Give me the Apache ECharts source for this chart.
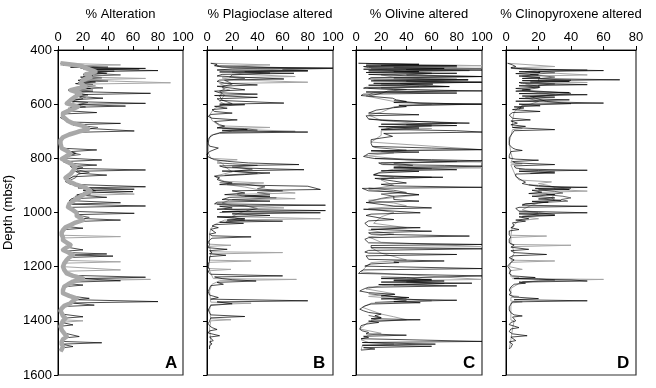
<!DOCTYPE html>
<html><head><meta charset="utf-8">
<script src="https://cdn.jsdelivr.net/npm/echarts@6/dist/echarts.min.js"></script>
<style>html,body{margin:0;padding:0;background:#fff}#c{width:656px;height:388px}</style>
</head><body><div id="c"></div>
<script>
// ---- data: [depth (mbsf), percent]; null = gap ----
const panelTitles = ['% Alteration', '% Plagioclase altered', '% Olivine altered', '% Clinopyroxene altered'];
const panelLetters = ['A', 'B', 'C', 'D'];
const panelMax = [100, 100, 100, 80];
const depthTicks = [400, 600, 800, 1000, 1200, 1400, 1600];

const altTrend = [[449,2],[455,14],[461,20],[470,24],[480,30],[490,22],[500,26],[510,20],[523,18],[535,22],[548,10],[560,18],[572,14],[585,10],[597,7],[609,16],[621,10],[634,4],[646,4],[652,3],[662,8],[671,12],[680,20],[692,24],[702,16],[712,9],[722,4],[733,2],[745,2],[763,3],[775,8],[782,10],[794,6],[802,3],[812,7],[822,11],[832,14],[846,12],[858,10],[872,6],[886,9],[896,14],[908,22],[920,26],[930,22],[946,16],[958,12],[968,9],[980,8],[991,12],[1001,15],[1012,15],[1020,18],[1028,20],[1037,14],[1046,10],[1055,6],[1065,4],[1074,3],[1083,3],[1092,4],[1102,4],[1111,7],[1120,10],[1129,7],[1138,4],[1147,8],[1157,12],[1166,9],[1175,7],[1188,5],[1200,4],[1212,5],[1225,7],[1234,12],[1243,20],[1255,12],[1265,8],[1274,5],[1286,4],[1298,4],[1308,9],[1317,15],[1326,12],[1335,10],[1345,5],[1354,3],[1363,2],[1372,3],[1382,4],[1391,6],[1400,4],[1409,3],[1420,2],[1434,3],[1446,5],[1458,7],[1468,4],[1477,3],[1486,3],[1495,4],[1505,3],[1512,2]];
const altBlack = [[449,2],[452,8],[456,4],[460,16],[464,10],[468,70],[471,22],[476,80],[480,26],[486,39],[490,20],[496,28],[500,18],[506,24],[512,16],[518,30],[524,14],[530,22],[536,16],[542,26],[548,8],[554,18],[560,74],[565,14],[572,18],[578,36],[584,10],[590,8],[597,70],[601,12],[607,54],[612,10],[618,12],[624,6],[631,31],[636,5],[642,4],[650,2],[660,6],[666,10],[671,50],[676,12],[684,22],[690,26],[699,61],[704,14],[712,8],[720,4],[732,2],[745,2],[756,3],[763,5],[769,31],[775,10],[782,14],[790,8],[798,3],[806,35],[812,4],[818,7],[825,31],[830,10],[837,12],[843,70],[848,14],[855,17],[862,39],[868,12],[877,8],[886,6],[896,10],[905,70],[909,16],[914,61],[918,20],[923,60],[928,22],[935,15],[944,39],[949,11],[956,9],[964,50],[969,8],[976,70],[981,9],[988,11],[996,13],[1003,61],[1008,14],[1015,17],[1022,19],[1028,50],[1033,16],[1040,12],[1046,10],[1052,7],[1058,20],[1063,5],[1072,3],[1083,3],[1095,4],[1104,5],[1112,7],[1120,9],[1128,7],[1138,20],[1143,5],[1148,8],[1153,39],[1157,12],[1161,44],[1166,9],[1175,7],[1188,5],[1200,4],[1212,5],[1225,7],[1232,11],[1239,70],[1244,18],[1252,50],[1257,12],[1263,9],[1268,20],[1274,5],[1286,4],[1298,4],[1308,9],[1317,25],[1322,14],[1329,80],[1334,11],[1342,29],[1347,5],[1356,3],[1365,2],[1375,3],[1385,20],[1390,5],[1398,5],[1406,3],[1415,12],[1420,2],[1432,3],[1445,5],[1452,6],[1458,17],[1463,5],[1470,4],[1476,3],[1481,35],[1486,3],[1490,4],[1495,12],[1500,3],[1506,2],[1512,2]];
const altDark = [[450,4],[452,6],[458,12],[463,40],[467,18],[470,65],[474,24],[478,45],[484,22],[492,50],[497,20],[503,35],[509,18],[515,40],[520,16],[527,28],[533,18],[540,36],[545,12],[552,28],[557,14],[566,24],[571,16],[580,20],[589,10],[594,24],[603,14],[610,22],[615,8],null,[676,12],[680,20],[686,32],[694,22],[708,12],null,[776,8],[786,18],[792,8],null,[828,10],[834,20],[840,13],[852,25],[858,16],[872,14],[880,10],null,[900,12],[907,20],[912,26],[920,30],[926,20],[932,26],[940,14],[950,18],[958,9],null,[1000,14],[1010,16],[1018,25],[1025,18],[1036,18],[1044,10]];
const altGray = [[449,2],[455,50],[459,10],[466,30],[472,20],[480,40],[486,24],[494,35],[500,22],[505,70],[510,20],[515,45],[521,90],[526,20],[532,30],[538,18],[546,28],[552,12],[562,20],[570,16],[576,22],[582,12],[590,14],[598,10],[606,18],[614,12],[622,10],[630,6],[646,4],[660,6],[672,14],[682,22],[692,24],[700,18],[710,10],[720,5],[745,2],[760,4],[775,10],[782,15],[800,4],[815,7],[830,12],[846,16],[856,18],[866,12],[880,9],[892,10],[903,15],[915,22],[923,24],[932,61],[937,16],[946,12],[960,9],[975,8],[990,12],[1005,15],[1020,18],[1030,20],[1040,12],[1050,8],[1060,5],[1075,4],[1084,3],[1089,50],[1094,4],[1105,5],[1120,10],[1135,5],[1150,10],[1165,9],[1177,7],[1182,50],[1187,6],[1200,4],[1207,5],[1212,50],[1217,5],[1228,8],[1238,16],[1243,20],[1247,74],[1252,15],[1262,9],[1275,5],[1290,4],[1305,8],[1318,15],[1330,11],[1345,5],[1360,3],[1375,3],[1390,6],[1396,4],[1400,20],[1405,4],[1420,2],[1440,3],[1458,7],[1475,3],[1495,4],[1512,2]];

const plagBlack = [[449,3],[453,8],[458,6],[463,12],[467,100],[470,20],[474,8],[477,80],[481,10],[486,69],[490,12],[496,8],[501,30],[507,61],[511,10],[516,8],[522,14],[529,40],[534,8],[541,20],[547,30],[552,6],[558,10],[563,40],[568,6],[575,40],[580,8],[586,10],[596,61],[600,10],[602,30],[608,6],[615,16],[620,4],[627,6],[633,20],[638,3],[645,1],[652,4],[658,24],[664,6],[670,8],[676,10],[681,14],[688,8],[694,32],[698,12],[703,80],[707,10],[713,5],[722,2],[731,1],[745,1],[755,2],[762,9],[768,8],[775,2],[786,0],[795,1],[800,2],[805,6],[811,16],[817,33],[823,73],[828,10],[834,14],[842,77],[847,12],[854,50],[860,30],[866,6],[872,10],[878,8],[885,12],[891,20],[897,10],[903,80],[909,80],[915,90],[920,20],[928,30],[934,14],[940,50],[944,18],[952,12],[958,50],[962,8],[968,6],[973,94],[977,10],[983,20],[988,8],[993,94],[997,12],[1001,90],[1005,20],[1011,50],[1016,8],[1023,30],[1028,16],[1032,60],[1036,10],[1040,29],[1045,6],[1050,4],[1056,9],[1062,3],[1068,2],[1075,7],[1080,2],[1086,4],[1090,35],[1095,4],[1102,2],[1110,1],[1118,2],[1125,3],[1130,1],[1136,16],[1141,2],[1148,4],[1152,2],[1158,15],[1163,2],[1170,1],[1180,2],[1190,1],[1200,1],[1210,2],[1220,1],[1228,3],[1234,60],[1238,6],[1244,12],[1248,20],[1253,39],[1258,8],[1265,13],[1270,3],[1280,2],[1292,1],[1305,2],[1314,9],[1320,3],[1326,80],[1330,8],[1337,20],[1343,3],[1351,2],[1360,1],[1370,2],[1378,3],[1384,30],[1389,3],[1396,4],[1402,2],[1410,1],[1418,2],[1425,4],[1432,8],[1437,2],[1445,1],[1455,10],[1460,2],[1466,3],[1473,5],[1478,2],[1485,4],[1492,2],[1498,3],[1504,2]];
const plagDark = [[456,6],[458,10],[464,50],[468,100],[472,60],[476,80],[480,30],[485,50],[492,20],[500,18],[505,30],[512,14],[520,18],[526,20],[535,12],[545,14],[552,10],[560,12],[570,10],[585,12],[598,20],[605,10],null,[686,8],[690,30],[696,40],[700,20],[705,10],null,[817,8],[820,20],[826,40],[832,20],[840,36],[848,22],[855,40],[862,14],null,[890,10],[895,30],[905,46],[912,40],[920,60],[926,40],[933,50],[940,30],[946,55],[952,20],null,[970,8],[975,30],[985,40],[995,30],[1000,10],null,[1016,8],[1020,22],[1028,30],[1035,15]];
const plagGray = [[449,3],[455,50],[460,8],[466,20],[470,40],[477,80],[482,20],[490,30],[494,50],[498,70],[503,12],[510,20],[519,80],[524,10],[532,14],[540,12],[548,18],[556,10],[566,14],[578,12],[590,10],[600,14],[610,8],[620,5],[640,2],[660,4],[680,10],[686,50],[691,12],[700,70],[705,10],[715,3],[740,1],[780,1],[800,3],[805,24],[810,8],[818,12],[830,14],[850,20],[866,6],[878,10],[885,14],[891,45],[897,16],[906,30],[915,40],[928,70],[933,24],[940,28],[949,70],[954,18],[965,12],[975,20],[983,61],[988,14],[995,30],[1005,24],[1015,20],[1023,90],[1028,14],[1036,10],[1045,6],[1060,3],[1080,2],[1100,2],[1117,2],[1121,19],[1125,2],[1145,3],[1148,60],[1153,3],[1176,2],[1179,35],[1184,2],[1207,1],[1210,19],[1215,2],[1244,5],[1247,71],[1252,10],[1265,4],[1290,2],[1331,3],[1335,35],[1340,3],[1360,2],[1392,3],[1396,19],[1400,3],[1430,2],[1470,3],[1504,2]];

const olivBlack = [[449,2],[453,50],[456,8],[458,80],[461,6],[465,10],[468,70],[471,6],[474,100],[477,10],[480,50],[483,8],[486,80],[490,10],[495,40],[498,100],[502,12],[507,10],[510,89],[514,12],[519,100],[523,14],[526,61],[530,10],[535,74],[538,8],[541,6],[546,30],[551,100],[555,8],[559,80],[563,6],[568,4],[572,5],[578,29],[584,32],[590,40],[594,30],[600,100],[604,34],[609,40],[613,30],[617,29],[622,16],[627,16],[633,10],[639,50],[643,8],[649,7],[655,10],[660,21],[664,21],[670,90],[674,20],[679,80],[683,18],[688,50],[693,20],[698,80],[703,100],[708,22],[713,21],[719,29],[725,20],[731,12],[737,11],[745,12],[751,12],[756,13],[762,60],[768,100],[772,12],[777,50],[782,10],[788,8],[793,6],[797,10],[801,15],[805,60],[809,100],[813,100],[817,18],[823,21],[826,70],[829,100],[835,30],[842,80],[846,20],[848,50],[854,18],[860,14],[865,20],[870,69],[874,15],[878,21],[884,30],[891,40],[896,20],[902,30],[907,100],[911,5],[915,6],[920,10],[924,29],[929,30],[934,50],[940,30],[946,29],[952,30],[958,50],[963,8],[970,8],[976,30],[983,60],[988,6],[995,6],[1001,51],[1006,12],[1011,8],[1016,7],[1021,20],[1026,30],[1031,10],[1040,7],[1046,8],[1052,10],[1056,51],[1062,12],[1069,60],[1075,10],[1080,12],[1087,90],[1093,10],[1099,7],[1105,8],[1112,10],[1118,100],[1122,12],[1126,13],[1130,12],[1134,100],[1140,10],[1146,7],[1150,10],[1155,80],[1160,8],[1167,7],[1173,10],[1179,70],[1183,30],[1185,34],[1190,12],[1198,7],[1203,8],[1207,100],[1212,6],[1216,4],[1220,3],[1225,2],[1230,2],[1234,100],[1240,100],[1244,20],[1247,60],[1250,30],[1253,70],[1257,20],[1261,92],[1266,18],[1271,80],[1276,10],[1281,7],[1285,5],[1290,3],[1296,10],[1302,31],[1308,20],[1314,42],[1319,20],[1324,80],[1329,30],[1333,51],[1338,12],[1345,7],[1351,5],[1357,3],[1363,6],[1369,10],[1375,20],[1381,15],[1388,20],[1392,12],[1396,51],[1401,10],[1406,18],[1412,8],[1418,4],[1424,3],[1431,3],[1437,5],[1443,10],[1448,8],[1453,40],[1457,6],[1461,10],[1466,4],[1471,4],[1476,100],[1480,5],[1486,63],[1490,5],[1494,60],[1499,6],[1504,15],[1508,4]];
const olivDark = [[450,8],[453,50],[457,20],[460,80],[464,30],[468,100],[472,40],[476,90],[480,30],[486,60],[492,40],[498,100],[503,30],[510,89],[515,40],[519,100],[524,35],[530,50],[535,74],[540,20],[546,40],[552,25],[560,20],[570,10],null,[586,30],[590,30],[596,50],[600,100],[605,40],[612,30],null,[655,10],[660,30],[666,60],[671,80],[676,40],[680,60],[686,30],[695,20],null,[756,13],[760,15],[770,40],[775,20],null,[800,15],[808,50],[812,80],[818,30],[826,45],[832,30],[838,60],[845,25],null,[862,14],[866,30],[870,60],[875,20],null,[910,10],[918,30],[926,40],[932,20],[940,30],[948,20],[960,10],null,[1238,20],[1240,40],[1246,50],[1251,60],[1256,40],[1262,70],[1268,30],null,[1300,10],[1310,30],[1316,40],[1320,30],[1326,40],[1332,15],null,[1380,10],[1390,20],[1398,12]];
const olivGray = [[449,2],[458,100],[462,10],[465,80],[469,12],[480,40],[486,60],[492,20],[500,30],[507,80],[512,14],[519,70],[526,20],[535,50],[541,10],[551,80],[557,14],[570,8],[590,30],[600,60],[610,30],[630,20],[640,10],[660,20],[675,60],[684,24],[690,60],[698,20],[715,20],[740,12],[768,100],[772,12],[780,30],[790,8],[805,40],[813,100],[817,20],[830,40],[835,100],[840,30],[850,20],[862,14],[870,30],[880,20],[900,30],[915,10],[925,30],[935,50],[945,30],[955,10],[965,30],[975,40],[985,10],[1000,30],[1016,20],[1040,14],[1056,40],[1065,10],[1080,30],[1090,10],[1110,20],[1126,100],[1130,12],[1150,20],[1175,40],[1185,12],[1200,8],[1220,4],[1247,100],[1252,30],[1262,60],[1270,20],[1282,8],[1300,30],[1310,10],[1326,60],[1335,12],[1350,5],[1375,20],[1385,30],[1396,40],[1405,10],[1430,3],[1446,20],[1453,10],[1470,4],[1480,10],[1486,30],[1492,5],[1508,4]];

const cpxBlack = [[449,1],[455,4],[461,6],[465,3],[470,10],[474,40],[476,60],[480,8],[483,21],[487,6],[492,20],[496,8],[501,21],[505,10],[510,70],[513,10],[516,39],[520,8],[524,10],[528,50],[532,8],[537,21],[542,6],[547,15],[552,6],[557,39],[561,8],[565,50],[570,10],[574,30],[579,8],[584,39],[589,6],[596,60],[600,8],[606,21],[610,5],[614,11],[620,4],[627,21],[631,4],[635,5],[640,2],[645,2],[652,4],[658,15],[662,3],[670,7],[676,3],[682,12],[686,4],[694,30],[698,5],[707,4],[715,3],[724,2],[731,2],[740,2],[750,2],[762,4],[767,6],[771,10],[775,3],[780,4],[790,2],[799,2],[803,6],[807,20],[812,4],[817,6],[823,30],[828,5],[836,6],[840,12],[844,50],[848,8],[854,30],[858,6],[866,6],[875,8],[882,10],[888,12],[893,10],[898,14],[903,20],[907,50],[911,18],[915,39],[918,16],[925,22],[930,14],[934,30],[940,16],[946,30],[950,20],[955,34],[959,16],[962,26],[968,12],[973,10],[977,50],[981,8],[985,6],[989,5],[995,8],[1001,50],[1005,8],[1011,30],[1016,8],[1023,14],[1028,6],[1032,12],[1038,4],[1044,3],[1050,5],[1056,3],[1063,8],[1068,2],[1075,3],[1082,2],[1090,3],[1099,2],[1106,3],[1112,2],[1120,5],[1128,3],[1136,14],[1141,3],[1148,5],[1155,25],[1160,4],[1167,2],[1175,5],[1184,3],[1190,2],[1198,1],[1205,2],[1215,3],[1225,2],[1234,4],[1240,18],[1244,5],[1249,40],[1253,50],[1257,8],[1261,12],[1265,5],[1275,3],[1286,2],[1296,3],[1304,2],[1312,5],[1318,20],[1322,5],[1326,50],[1330,4],[1339,3],[1348,2],[1360,2],[1370,3],[1378,5],[1382,10],[1386,4],[1393,3],[1400,6],[1406,3],[1414,2],[1420,3],[1425,8],[1430,3],[1440,2],[1448,4],[1455,13],[1460,3],[1466,4],[1473,6],[1478,2],[1486,4],[1492,5],[1498,3],[1504,2]];
const cpxDark = [[468,3],[470,10],[474,50],[478,20],[484,30],[490,15],[500,30],[506,20],[512,40],[518,15],[525,30],[530,20],[540,20],[548,10],[560,40],[566,30],[572,15],[590,25],[598,40],[604,10],[620,8],null,[842,8],[845,20],[850,30],[856,15],null,[898,14],[900,20],[906,30],[910,40],[916,20],[922,30],[928,35],[934,25],[940,35],[946,40],[952,34],[958,38],[964,20],[970,10],null,[998,8],[1000,20],[1008,30],[1014,10],null,[1244,5],[1245,20],[1250,30],[1256,10]];
const cpxGray = [[449,1],[461,30],[466,5],[474,20],[480,12],[492,50],[497,10],[505,20],[516,20],[520,50],[525,12],[535,20],[545,10],[557,20],[565,30],[575,12],[590,20],[600,15],[610,8],[630,5],[660,4],[686,4],[690,10],[694,4],[740,2],[780,3],[800,4],[817,3],[820,10],[824,3],[866,6],[880,8],[884,8],[887,28],[893,20],[900,26],[907,30],[915,30],[921,50],[926,20],[934,30],[946,28],[955,30],[965,20],[975,15],[990,10],[1005,20],[1015,10],[1023,20],[1030,8],[1050,4],[1084,3],[1087,25],[1092,3],[1118,3],[1121,40],[1126,4],[1150,5],[1176,3],[1179,30],[1184,3],[1200,2],[1207,2],[1210,10],[1215,2],[1237,3],[1240,8],[1244,4],[1247,60],[1252,20],[1262,8],[1280,3],[1307,3],[1310,8],[1314,3],[1327,3],[1330,10],[1334,3],[1360,3],[1397,3],[1400,5],[1430,4],[1470,3],[1504,2]];

const panelData = [
  {lt: altGray, dk: altDark, bk: altBlack, trend: altTrend},
  {lt: plagGray, dk: plagDark, bk: plagBlack},
  {lt: olivGray, dk: olivDark, bk: olivBlack},
  {lt: cpxGray, dk: cpxDark, bk: cpxBlack}
];

// ---- layout ----
const FONT = 'Liberation Sans';
const gridPos = [{left:58,width:125},{left:207,width:126},{left:356,width:126},{left:506,width:130}];
const letterPos = [[165,355],[313,355],[463,355],[617,355]];
const toXY = arr => arr.map(p => p ? [p[1], p[0]] : '-');

const grid = gridPos.map(g => ({left:g.left, width:g.width, top:50, height:325, show:true, borderColor:'#333', borderWidth:1.2, backgroundColor:'#fff'}));
const xAxis = gridPos.map((g,i) => ({
  gridIndex:i, type:'value', position:'top', min:0, max:panelMax[i], interval:20,
  name:panelTitles[i], nameLocation:'middle', nameGap:29,
  nameTextStyle:{fontFamily:FONT, fontSize:13, color:'#000'},
  axisLine:{show:true, onZero:false, lineStyle:{color:'#000', width:1}},
  axisTick:{show:true, length:4, lineStyle:{color:'#000'}},
  axisLabel:{fontFamily:FONT, fontSize:13, color:'#000', margin:6, formatter: v => String(v)},
  splitLine:{show:false}
}));
const yAxis = gridPos.map((g,i) => ({
  gridIndex:i, type:'value', inverse:true, min:depthTicks[0], max:depthTicks[depthTicks.length-1], interval:200,
  name: i===0 ? 'Depth (mbsf)' : '', nameLocation:'middle', nameGap:43,
  nameTextStyle:{fontFamily:FONT, fontSize:13, color:'#000'},
  axisLine:{show:true, onZero:false, lineStyle:{color:'#000', width:1}},
  axisTick:{show:true, length:4, lineStyle:{color:'#000'}},
  axisLabel:{show: i===0, fontFamily:FONT, fontSize:13, color:'#000', margin:6, formatter: v => String(v)},
  splitLine:{show:false}
}));

const series = [];
panelData.forEach((p,i) => {
  const base = {type:'line', xAxisIndex:i, yAxisIndex:i, symbol:'none', showSymbol:false, smooth:false, connectNulls:false, animation:false, silent:true};
  series.push(Object.assign({}, base, {data:toXY(p.lt), lineStyle:{color:'#a6a6a6', width:1}, z:2}));
  series.push(Object.assign({}, base, {data:toXY(p.dk), lineStyle:{color:'#6a6a6a', width:1}, z:3}));
  series.push(Object.assign({}, base, {data:toXY(p.bk), lineStyle:{color:'#000', width:0.7}, z:4}));
  if (p.trend) series.push(Object.assign({}, base, {data:toXY(p.trend), lineStyle:{color:'#a8a8a8', width:4.5, join:'round'}, z:5}));
});

const graphic = panelLetters.map((t,i) => ({
  type:'text', left:letterPos[i][0], top:letterPos[i][1], z:100,
  style:{text:t, font:'bold 17px "' + FONT + '"', fill:'#000'}
}));

const chart = echarts.init(document.getElementById('c'), null, {renderer:'canvas'});
chart.setOption({animation:false, grid, xAxis, yAxis, series, graphic});
</script>
</body></html>
